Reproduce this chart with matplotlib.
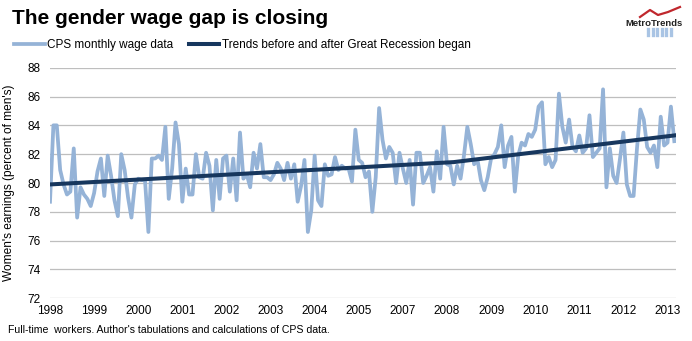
import matplotlib.pyplot as plt
from matplotlib.lines import Line2D

# CPS monthly wage data (women's earnings as percent of men's), Jan 1998 onward
cps_monthly = [
    78.7, 84.0, 84.0, 80.9, 79.9, 79.2, 79.4, 82.4, 77.6, 79.7,
    79.2, 78.9, 78.4, 79.3, 80.8, 81.7, 79.1, 81.9, 80.5, 78.8,
    77.7, 82.0, 80.9, 79.0, 77.6, 79.9, 80.3, 80.2, 80.2, 76.6,
    81.7, 81.7, 81.9, 81.6, 83.9, 78.9, 81.0, 84.2, 82.7, 78.7,
    81.0, 79.2, 79.2, 82.0, 80.4, 80.3, 82.1, 81.2, 78.1, 81.6,
    78.9, 81.7, 81.9, 79.4, 81.7, 78.8, 83.5, 80.3, 80.6, 79.7,
    82.1, 81.0, 82.7, 80.4, 80.4, 80.2, 80.6, 81.4, 81.0, 80.2,
    81.4, 80.3, 81.3, 78.7, 79.8, 81.6, 76.6, 78.1, 81.9, 78.8,
    78.4, 81.3, 80.5, 80.6, 81.8, 80.9, 81.2, 81.0, 81.0, 80.1,
    83.7, 81.6, 81.4, 80.4, 80.8, 78.0, 80.4, 85.2, 83.0, 81.7,
    82.5, 82.1, 80.0, 82.1, 81.0, 80.0, 81.6, 78.5, 82.1, 82.1,
    80.0, 80.5, 81.1, 79.4, 82.2, 80.3, 83.9, 81.3, 81.2, 79.9,
    81.2, 80.3, 81.9, 83.9, 82.7, 81.3, 81.6, 80.2, 79.5, 80.4,
    81.7, 82.0, 82.5, 84.0, 81.1, 82.6, 83.2, 79.4, 81.9, 82.8,
    82.6, 83.4, 83.2, 83.7, 85.3, 85.6, 81.3, 81.8, 81.1, 81.6,
    86.2, 83.9, 82.8, 84.4, 82.5, 82.2, 83.3, 82.1, 82.4, 84.7,
    81.8, 82.1, 82.4, 86.5, 79.7, 82.4, 80.5, 80.0, 81.7, 83.5,
    79.9, 79.1, 79.1, 82.4, 85.1, 84.4, 82.5, 82.1, 82.6, 81.1,
    84.6, 82.6, 82.8, 85.3, 82.9,
]

# trend knots: start, Great Recession break, end
trend_idx = [0, 119, 184]
trend_vals = [79.9, 81.45, 83.3]

year_labels = ['1998', '1999', '2000', '2001', '2002', '2003', '2004', '2005',
               '2007', '2008', '2009', '2010', '2011', '2012', '2013']
label_step = 13

light_blue = '#95B3D7'
navy = '#17375E'
font = 'Liberation Sans'

plt.rcParams['font.family'] = [font, 'DejaVu Sans']

fig = plt.figure(figsize=(6.92, 3.41), dpi=100)
ax = fig.add_axes([50 / 692, 1 - 298.3 / 341, 626 / 692, 230.6 / 341])

x = list(range(len(cps_monthly)))
ax.plot(x, cps_monthly, color=light_blue, lw=2.7, solid_joinstyle='round', zorder=2)
ax.plot(trend_idx, trend_vals, color=navy, lw=2.9, zorder=3)

ax.set_ylim(72, 88)
ax.set_yticks(range(72, 89, 2))
ax.set_xlim(0, len(cps_monthly) - 0.5)
ax.set_xticks([i * label_step for i in range(len(year_labels))])
ax.set_xticklabels(year_labels)
ax.grid(axis='y', color='#BEBEBE', lw=0.9, zorder=0)
ax.set_axisbelow(True)
for s in ax.spines.values():
    s.set_visible(False)
ax.tick_params(length=0, labelsize=8.5, colors='#000000')
ax.tick_params(axis='y', pad=7)
ax.tick_params(axis='x', pad=5)
ax.set_ylabel("Women's earnings (percent of men's)", fontsize=8.6)
ax.yaxis.set_label_coords((15 - 50) / 626, 0.5)

fig.text(12 / 692, 1 - 19 / 341, 'The gender wage gap is closing', fontsize=15,
         fontweight='bold', va='center', ha='left')

handles = [Line2D([], [], color=light_blue, lw=2.7),
           Line2D([], [], color=navy, lw=2.9)]
fig.legend(handles, ['CPS monthly wage data',
                     'Trends before and after Great Recession began'],
           loc='center left', bbox_to_anchor=(14 / 692, 1 - 45 / 341),
           ncol=2, frameon=False, fontsize=8.5, handlelength=2.6,
           handletextpad=0.2, columnspacing=1.3, borderaxespad=0, borderpad=0)

fig.text(8 / 692, 1 - 330 / 341,
         "Full-time  workers. Author's tabulations and calculations of CPS data.",
         fontsize=7.6, va='center', ha='left')

# MetroTrends logo
fig.text(654 / 692, 1 - 24 / 341, 'MetroTrends', fontsize=6.8, fontweight='bold',
         ha='center', va='center', color='#222222')
fig.add_artist(Line2D([640 / 692, 650 / 692, 658 / 692, 668 / 692, 680 / 692],
                      [1 - 17 / 341, 1 - 10 / 341, 1 - 15 / 341, 1 - 12 / 341, 1 - 7 / 341],
                      color='#C0272D', lw=1.6))
for k in range(6):
    fig.add_artist(Line2D([(648 + k * 4.5) / 692] * 2, [1 - 29 / 341, 1 - 35 / 341],
                          color='#A9C4E4', lw=2.4))

fig.savefig('out.png', dpi=100)
